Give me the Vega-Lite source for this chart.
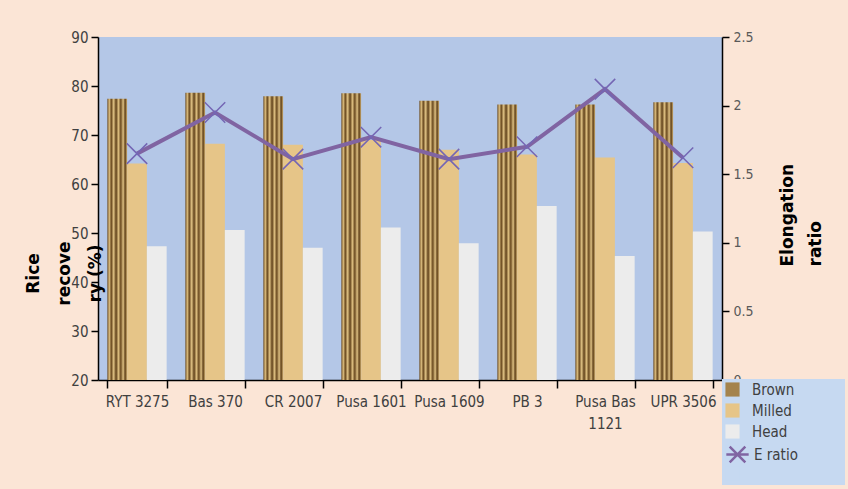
{
  "$schema": "https://vega.github.io/schema/vega-lite/v6.json",
  "width": 624,
  "height": 343,
  "autosize": "none",
  "padding": {"left": 98, "top": 37, "right": 126, "bottom": 109},
  "background": "#fbe5d6",
  "view": {"fill": "#b4c7e7", "stroke": null},
  "config": {
    "font": "Liberation Sans Narrow, DejaVu Sans Condensed, sans-serif",
    "axis": {"grid": false, "domainColor": "#000000", "tickColor": "#000000", "labelColor": "#404040", "labelFontSize": 14, "domainWidth": 1.5, "tickWidth": 1.5}
  },
  "datasets": {
    "bars": [
      {"variety": "RYT 3275", "series": "Brown", "value": 77.4},
      {"variety": "RYT 3275", "series": "Milled", "value": 64.2},
      {"variety": "RYT 3275", "series": "Head", "value": 47.3},
      {"variety": "Bas 370", "series": "Brown", "value": 78.6},
      {"variety": "Bas 370", "series": "Milled", "value": 68.2},
      {"variety": "Bas 370", "series": "Head", "value": 50.6},
      {"variety": "CR 2007", "series": "Brown", "value": 77.9},
      {"variety": "CR 2007", "series": "Milled", "value": 68.0},
      {"variety": "CR 2007", "series": "Head", "value": 47.0},
      {"variety": "Pusa 1601", "series": "Brown", "value": 78.5},
      {"variety": "Pusa 1601", "series": "Milled", "value": 69.0},
      {"variety": "Pusa 1601", "series": "Head", "value": 51.1},
      {"variety": "Pusa 1609", "series": "Brown", "value": 77.0},
      {"variety": "Pusa 1609", "series": "Milled", "value": 67.0},
      {"variety": "Pusa 1609", "series": "Head", "value": 47.9},
      {"variety": "PB 3", "series": "Brown", "value": 76.2},
      {"variety": "PB 3", "series": "Milled", "value": 66.0},
      {"variety": "PB 3", "series": "Head", "value": 55.5},
      {"variety": "Pusa Bas 1121", "series": "Brown", "value": 76.2},
      {"variety": "Pusa Bas 1121", "series": "Milled", "value": 65.4},
      {"variety": "Pusa Bas 1121", "series": "Head", "value": 45.3},
      {"variety": "UPR 3506", "series": "Brown", "value": 76.7},
      {"variety": "UPR 3506", "series": "Milled", "value": 64.3},
      {"variety": "UPR 3506", "series": "Head", "value": 50.3}
    ],
    "eratio": [
      {"variety": "RYT 3275", "series": "E ratio", "ratio": 1.65},
      {"variety": "Bas 370", "series": "E ratio", "ratio": 1.95},
      {"variety": "CR 2007", "series": "E ratio", "ratio": 1.61},
      {"variety": "Pusa 1601", "series": "E ratio", "ratio": 1.77},
      {"variety": "Pusa 1609", "series": "E ratio", "ratio": 1.61},
      {"variety": "PB 3", "series": "E ratio", "ratio": 1.70},
      {"variety": "Pusa Bas 1121", "series": "E ratio", "ratio": 2.12},
      {"variety": "UPR 3506", "series": "E ratio", "ratio": 1.62}
    ]
  },
  "layer": [
    {
      "data": {"name": "bars"},
      "mark": {"type": "bar", "clip": true},
      "encoding": {
        "x": {
          "field": "variety", "type": "nominal",
          "sort": ["RYT 3275", "Bas 370", "CR 2007", "Pusa 1601", "Pusa 1609", "PB 3", "Pusa Bas 1121", "UPR 3506"],
          "scale": {"paddingInner": 0.24, "paddingOuter": 0.12},
          "axis": {"title": null, "labelAngle": 0, "tickBand": "extent", "tickSize": 8, "labelPadding": 6, "labelLineHeight": 22, "labelFontSize": 15,
                   "labelExpr": "datum.value == 'Pusa Bas 1121' ? ['Pusa Bas', '1121'] : datum.value"}
        },
        "xOffset": {"field": "series", "type": "nominal", "sort": ["Brown", "Milled", "Head"], "scale": {"paddingInner": 0, "paddingOuter": 0}},
        "y": {
          "field": "value", "type": "quantitative",
          "scale": {"domain": [20, 90], "zero": false},
          "axis": {"values": [20, 30, 40, 50, 60, 70, 80, 90], "tickSize": 7, "labelPadding": 3, "labelFontSize": 15, "zindex": 1,
                   "title": ["Rice", "recove", "ry (%)"], "titleFontSize": 17, "titleFontWeight": "bold", "titleColor": "#000000",
                   "titleFont": "DejaVu Sans", "titleLineHeight": 31, "titleAlign": "center", "titleBaseline": "middle",
                   "titleX": -65, "titleY": 236, "titleAngle": 270}
        },
        "y2": {"datum": 20},
        "fill": {
          "condition": {"test": "datum.series === 'Brown'",
            "value": {"gradient": "linear", "x1": 0, "y1": 0, "x2": 1, "y2": 0,
                       "stops": [
                         {"offset": 0, "color": "#6a4a20"}, {"offset": 0.1, "color": "#dcbd7e"},
                         {"offset": 0.2, "color": "#6a4a20"}, {"offset": 0.32, "color": "#e0c284"},
                         {"offset": 0.44, "color": "#5e3f18"}, {"offset": 0.56, "color": "#dcbd7e"},
                         {"offset": 0.68, "color": "#6a4a20"}, {"offset": 0.8, "color": "#e0c284"},
                         {"offset": 0.9, "color": "#5e3f18"}, {"offset": 1, "color": "#cfae6e"}]}},
          "field": "series", "type": "nominal",
          "scale": {"domain": ["Brown", "Milled", "Head", "E ratio", " "],
                    "range": ["#a4834d", "#e6c588", "#ececec", "#c6d9f1", "#c6d9f1"]},
          "legend": {"title": null,
                     "orient": "none", "legendX": 624, "legendY": 342, "fillColor": "#c6d9f1", "padding": 3,
                     "symbolType": "square", "symbolSize": 200, "symbolStrokeWidth": 0, "labelFontSize": 15, "labelColor": "#404040",
                     "rowPadding": 5, "labelOffset": 12, "labelLimit": 400,
                     "labelExpr": "(datum.label == 'E ratio' ? '' : datum.label) + '\u00a0\u00a0\u00a0\u00a0\u00a0\u00a0\u00a0\u00a0\u00a0\u00a0\u00a0\u200b'"}
        }
      }
    },
    {
      "data": {"name": "eratio"},
      "encoding": {
        "x": {"field": "variety", "type": "nominal", "sort": ["RYT 3275", "Bas 370", "CR 2007", "Pusa 1601", "Pusa 1609", "PB 3", "Pusa Bas 1121", "UPR 3506"]},
        "y": {
          "field": "ratio", "type": "quantitative",
          "scale": {"domain": [0, 2.5]},
          "axis": {"orient": "right", "values": [0, 0.5, 1, 1.5, 2, 2.5], "format": "~g", "tickSize": 7, "labelPadding": 4, "labelColor": "#595959", "labelFontSize": 14,
                   "title": ["Elongation", "ratio"], "titleFontSize": 17, "titleFontWeight": "bold", "titleColor": "#000000", "titleFont": "DejaVu Sans",
                   "titleLineHeight": 28, "titleAngle": 270, "titleAlign": "left", "titleBaseline": "middle", "titleX": 65, "titleY": 229}
        }
      },
      "layer": [
        {
          "mark": {"type": "line", "strokeWidth": 4},
          "encoding": {
            "stroke": {"field": "series", "type": "nominal",
              "scale": {"domain": ["E ratio"], "range": ["#8064a2"]},
              "legend": {"title": null, "orient": "none", "legendX": 624, "legendY": 402, "padding": 3,
                         "symbolType": "M-1,0L1,0M-0.7,-0.7L0.7,0.7M-0.7,0.7L0.7,-0.7", "symbolSize": 500, "symbolStrokeWidth": 2.5,
                         "labelFontSize": 15, "labelColor": "#404040", "labelOffset": 4, "labelLimit": 200}}
          }
        },
        {
          "mark": {"type": "point", "shape": "M-1,-1L1,1M-1,1L1,-1", "filled": false, "stroke": "#7466b4", "strokeWidth": 1.5, "size": 420, "opacity": 1}
        }
      ]
    }
  ],
  "resolve": {"scale": {"y": "independent"}}
}
